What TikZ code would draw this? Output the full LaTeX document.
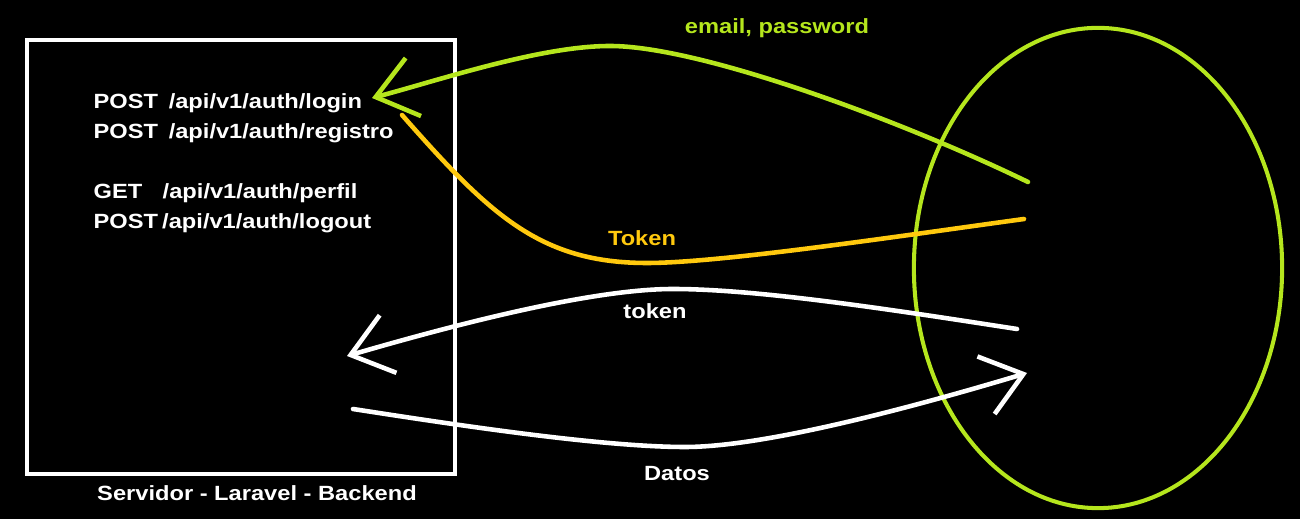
\documentclass[tikz,border=0pt]{standalone}
\usepackage{fontspec}
\setmainfont{Liberation Sans}[BoldFont={Liberation Sans Bold}, FakeStretch=1.15]
\usetikzlibrary{arrows.meta,shapes.geometric}
\definecolor{paintlime}{HTML}{B5E61D}
\definecolor{paintgold}{HTML}{FFC90E}

\begin{document}
\begin{tikzpicture}[
    x=0.01cm, y=-0.01cm,
    every node/.style={
      font=\fontsize{5.85pt}{7pt}\selectfont\bfseries,
      text=white,
      inner sep=0pt,
    },
    route node/.style={anchor=base west},
    label node/.style={anchor=base},
    flow line/.style={line width=1.3pt, line cap=round},
    flow arrow/.style={flow line, -{Straight Barb[length=3.9mm,width=6mm]}},
    ]
  \fill[black] (0,0) rectangle (1300,519);
  \useasboundingbox (0,0) rectangle (1300,519);
  % server box and its routes
  \node[draw=white, line width=1.15pt, minimum width=4.28cm, minimum height=4.34cm] (servidor) at (241,257) {};
  \node[route node] (login)    at (93,109) {\makebox[0.75cm][l]{POST}/api/v1/auth/login};
  \node[route node] (registro) at (93,139) {\makebox[0.75cm][l]{POST}/api/v1/auth/registro};
  \node[route node] (perfil)   at (93,199) {\makebox[0.69cm][l]{GET}/api/v1/auth/perfil};
  \node[route node] (logout)   at (93,229) {\makebox[0.685cm][l]{POST}/api/v1/auth/logout};
  \node[label node] (servidor-label) at (257,501) {Servidor - Laravel - Backend};
  % client
  \node[ellipse, draw=paintlime, line width=1.15pt, minimum width=3.68cm, minimum height=4.8cm] (cliente) at (1098,268) {};
  \begin{scope}
    \coordinate (cliente-email)  at (1028,182);
    \coordinate (cliente-token)  at (1024,219);
    \coordinate (cliente-perfil) at (1017,329);
    \coordinate (cliente-datos)  at (1027,373);
    \coordinate (login-in)       at (372,98);
    \coordinate (login-out)      at (402,115);
    \coordinate (perfil-in)      at (347,356);
    \coordinate (perfil-out)     at (353,409);
  \end{scope}
  % flows
  \draw[flow arrow, paintlime] (cliente-email) .. controls (900,120) and (700,46) .. (610,46)
    .. controls (540,46) and (440,80) .. (login-in);
  \draw[flow line, paintgold] (cliente-token) .. controls (900,236) and (720,263) .. (647,263)
    .. controls (540,263) and (490,215) .. (login-out);
  \draw[flow arrow, white] (cliente-perfil) .. controls (900,311) and (760,289) .. (673,289)
    .. controls (590,289) and (450,326) .. (perfil-in);
  \draw[flow arrow, white] (perfil-out) .. controls (450,424) and (600,447) .. (685,447)
    .. controls (770,447) and (930,402) .. (cliente-datos);
  \node[label node, text=paintlime] (email)        at (777,34)  {email, password};
  \node[label node, text=paintgold] (token-login)  at (642,246) {Token};
  \node[label node]                 (token-perfil) at (655,319) {token};
  \node[label node]                 (datos)        at (677,481) {Datos};
\end{tikzpicture}
\end{document}
